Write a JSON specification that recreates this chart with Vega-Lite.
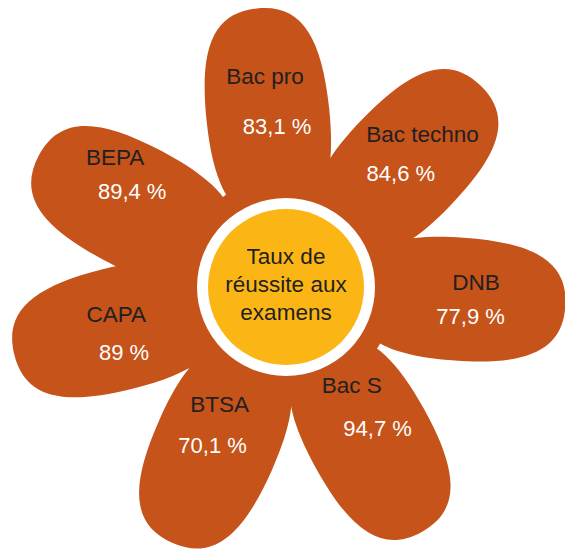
{
  "$schema": "https://vega.github.io/schema/vega-lite/v6.json",
  "autosize": {"type": "none"},
  "width": 558,
  "height": 538,
  "padding": {"left": 7, "top": 18, "right": 0, "bottom": 0},
  "background": "white",
  "config": {"view": {"stroke": null}, "text": {"font": "Liberation Sans"}},
  "datasets": {
    "exams": [
      {"exam": "Bac pro", "rate": 83.1},
      {"exam": "Bac techno", "rate": 84.6},
      {"exam": "DNB", "rate": 77.9},
      {"exam": "Bac S", "rate": 94.7},
      {"exam": "BTSA", "rate": 70.1},
      {"exam": "CAPA", "rate": 89},
      {"exam": "BEPA", "rate": 89.4}
    ],
    "centre": [{"caption": "Taux de\nréussite aux\nexamens"}]
  },
  "layer": [
    {
      "data": {"name": "centre"},
      "mark": {"type": "arc", "theta": 0, "theta2": 6.2832, "radius": 110, "color": "#C5531A"},
      "encoding": {}
    },
    {
      "data": {"name": "exams"},
      "transform": [
        {"window": [{"op": "row_number", "as": "pos"}]},
        {"calculate": "replace(toString(datum.rate), '.', ',') + ' %'", "as": "label"}
      ],
      "layer": [
        {
          "mark": {
            "type": "point",
            "shape": "M0,-0.24 C0.154,-0.24 0.22,-0.354 0.22,-0.62 C0.22,-0.886 0.154,-1 0,-1 C-0.154,-1 -0.22,-0.886 -0.22,-0.62 C-0.22,-0.354 -0.154,-0.24 0,-0.24 Z",
            "size": 313600,
            "filled": true,
            "opacity": 1,
            "strokeWidth": 0,
            "color": "#C5531A"
          },
          "encoding": {
            "angle": {"field": "pos", "type": "quantitative", "legend": null, "scale": {"type": "linear", "domain": [1, 2, 3, 4, 5, 6, 7], "range": [-6, 44, 94, 151, 204, 256, 298]}}
          }
        },
        {
          "mark": {"type": "text", "fontSize": 22.5, "color": "#231F20"},
          "encoding": {
            "theta": {"field": "pos", "type": "quantitative", "stack": null, "scale": {"type": "linear", "domain": [1, 2, 3, 4, 5, 6, 7], "range": [-0.0995, 0.733, 1.5499, 2.5552, 3.6547, 4.5483, 5.3582]}},
            "radius": {"field": "pos", "type": "quantitative", "scale": {"type": "linear", "domain": [1, 2, 3, 4, 5, 6, 7], "range": [211, 204, 190, 119, 135, 172, 214]}},
            "text": {"field": "exam"}
          }
        },
        {
          "mark": {"type": "text", "fontSize": 22, "color": "white"},
          "encoding": {
            "theta": {"field": "pos", "type": "quantitative", "stack": null, "scale": {"type": "linear", "domain": [1, 2, 3, 4, 5, 6, 7], "range": [-0.0559, 0.7941, 1.7331, 2.5691, 3.5744, 4.3232, 5.2674]}},
            "radius": {"field": "pos", "type": "quantitative", "scale": {"type": "linear", "domain": [1, 2, 3, 4, 5, 6, 7], "range": [160, 161, 187, 169, 175, 175, 181]}},
            "text": {"field": "label"}
          }
        }
      ],
      "resolve": {"scale": {"theta": "independent", "radius": "independent"}}
    },
    {
      "data": {"name": "centre"},
      "layer": [
        {"mark": {"type": "arc", "theta": 0, "theta2": 6.2832, "radius": 89, "color": "white"}, "encoding": {}},
        {"mark": {"type": "arc", "theta": 0, "theta2": 6.2832, "radius": 78, "color": "#FBB616"}, "encoding": {}},
        {"mark": {"type": "text", "lineBreak": "\n", "fontSize": 22.5, "lineHeight": 28, "dy": -30, "color": "#231F20"}, "encoding": {"text": {"field": "caption"}}}
      ]
    }
  ]
}
